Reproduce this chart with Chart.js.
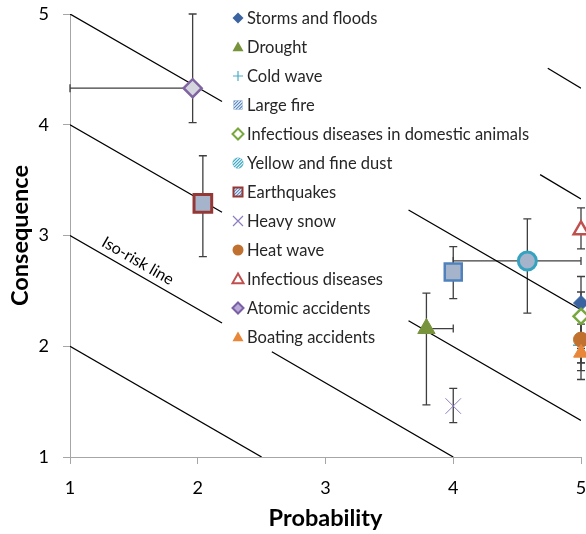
<!DOCTYPE html>
<html>
<head>
<meta charset="utf-8">
<script src="https://cdn.jsdelivr.net/npm/chart.js@4.4.1/dist/chart.umd.min.js"></script>
<style>
html, body { margin: 0; padding: 0; background: #fff; }
#wrap { width: 586px; height: 534px; }
</style>
</head>
<body>
<div id="wrap"><canvas id="riskChart" width="586" height="534"></canvas></div>
<script>
// risk series (one point each)
const riskNames = [
    'Storms and floods', 'Drought', 'Cold wave', 'Large fire',
    'Infectious diseases in domestic animals', 'Yellow and fine dust', 'Earthquakes',
    'Heavy snow', 'Heat wave', 'Infectious diseases', 'Atomic accidents', 'Boating accidents'
];
const probability     = [5, 3.79, 5, 4.0, 5, 4.58, 2.04, 4.0, 5, 5, 1.96, 5];
const consequence     = [2.39, 2.16, 2.01, 2.67, 2.27, 2.77, 3.29, 1.46, 2.06, 3.05, 4.33, 1.94];
const consequenceLow  = [1.85, 1.47, 1.85, 2.43, 1.98, 2.30, 2.81, 1.31, 1.78, 2.88, 4.02, 1.70];
const consequenceHigh = [2.63, 2.48, 2.20, 2.90, 2.49, 3.15, 3.72, 1.62, 2.30, 3.25, 5.00, 2.10];
const probabilityLow  = [null, null, null, null, null, 4.0, null, null, null, null, 1.0, null];
const probabilityHigh = [null, 4.0, null, null, null, 5.0, null, null, null, null, null, null];

// iso-risk lines, null = gap behind the legend
const isoLine1 = [[1, 2], [2.5, 1]];
const isoLine2 = [[1, 3], [2.19, 2.21], null, [2.58, 1.95], [4, 1]];
const isoLine3 = [[1, 4], [2.19, 3.21], null, [3.65, 2.23], [5, 1.33]];
const isoLine4 = [[1, 5], [2.19, 4.21], null, [3.65, 3.23], [5, 2.33]];
const isoLine5 = [[4.68, 3.55], [5, 3.33]];
const isoLine6 = [[4.74, 4.51], [5, 4.33]];

const axisTicks = [1, 2, 3, 4, 5];
const isoLabelText = 'Iso-risk line';
const isoLabelAt = [1.53, 2.77];

const fontFamily = 'Lato, "Open Sans", sans-serif';
const barColor = '#3f3f3f';
const blueGray = '#a5b4cb';

const markerStyles = [
    { pointStyle: 'rectRot', radius: 7.5, bg: '#3a63a0', border: '#3a63a0', bw: 1 },
    { pointStyle: 'triangle', radius: 10, bg: '#77933c', border: '#77933c', bw: 1 },
    { pointStyle: 'cross', radius: 8, bg: '#4bacc6', border: '#4bacc6', bw: 1.5 },
    { pointStyle: 'rect', radius: 12, bg: blueGray, border: '#4f81bd', bw: 2.5 },
    { pointStyle: 'rectRot', radius: 7.5, bg: '#ffffff', border: '#78a83c', bw: 2.5 },
    { pointStyle: 'circle', radius: 9, bg: blueGray, border: '#35a3c0', bw: 3 },
    { pointStyle: 'rect', radius: 12.5, bg: blueGray, border: '#953735', bw: 3 },
    { pointStyle: 'crossRot', radius: 11, bg: '#8e7cc3', border: '#8e7cc3', bw: 1 },
    { pointStyle: 'circle', radius: 7.5, bg: '#c0712f', border: '#c0712f', bw: 1 },
    { pointStyle: 'triangle', radius: 8.5, bg: '#ffffff', border: '#c0504d', bw: 2.5 },
    { pointStyle: 'rectRot', radius: 9, bg: '#d5d5de', border: '#8064a2', bw: 2.5 },
    { pointStyle: 'triangle', radius: 8.5, bg: '#e8863a', border: '#e8863a', bw: 1 }
];

const legendIcons = [
    { shape: 'diamond', fill: '#3a63a0' },
    { shape: 'triangle', fill: '#77933c' },
    { shape: 'plus', stroke: '#4bacc6' },
    { shape: 'square', fill: '#4f81bd', hatch: true },
    { shape: 'diamond', fill: '#ffffff', stroke: '#78a83c' },
    { shape: 'circle', fill: '#35a3c0', hatch: true },
    { shape: 'square', fill: '#4f81bd', stroke: '#953735', hatch: true },
    { shape: 'x', stroke: '#8e7cc3' },
    { shape: 'circle', fill: '#c0712f' },
    { shape: 'triangle', fill: '#ffffff', stroke: '#c0504d' },
    { shape: 'diamond', fill: '#b9a9d6', stroke: '#7a5fa6' },
    { shape: 'triangle', fill: '#e8863a' }
];

function toPoints(line) {
    return line.map(p => p ? { x: p[0], y: p[1] } : { x: null, y: null });
}

const riskDatasets = riskNames.map((name, i) => ({
    label: name,
    data: [{ x: probability[i], y: consequence[i] }],
    pointStyle: markerStyles[i].pointStyle,
    pointRadius: markerStyles[i].radius,
    pointBackgroundColor: markerStyles[i].bg,
    pointBorderColor: markerStyles[i].border,
    pointBorderWidth: markerStyles[i].bw,
    clip: false,
    order: 20 - i
}));

const isoDatasets = [isoLine1, isoLine2, isoLine3, isoLine4, isoLine5, isoLine6].map((line, i) => ({
    label: 'iso' + i,
    data: toPoints(line),
    showLine: true,
    borderColor: '#000000',
    borderWidth: 1.3,
    pointRadius: 0,
    spanGaps: false,
    order: 100
}));

// error bars, drawn under the markers
const errorBars = {
    id: 'errorBars',
    beforeDatasetsDraw(chart) {
        const ctx = chart.ctx;
        const xs = chart.scales.x;
        const ys = chart.scales.y;
        const cap = 4;
        ctx.save();
        ctx.strokeStyle = barColor;
        ctx.lineWidth = 1.3;
        for (let i = 0; i < riskNames.length; i++) {
            const px = xs.getPixelForValue(probability[i]);
            const py = ys.getPixelForValue(consequence[i]);
            const top = ys.getPixelForValue(consequenceHigh[i]);
            const bottom = ys.getPixelForValue(consequenceLow[i]);
            ctx.beginPath();
            ctx.moveTo(px, top); ctx.lineTo(px, bottom);
            ctx.moveTo(px - cap, top); ctx.lineTo(px + cap, top);
            ctx.moveTo(px - cap, bottom); ctx.lineTo(px + cap, bottom);
            if (probabilityLow[i] !== null) {
                const left = xs.getPixelForValue(probabilityLow[i]);
                ctx.moveTo(left, py); ctx.lineTo(px, py);
                ctx.moveTo(left, py - cap); ctx.lineTo(left, py + cap);
            }
            if (probabilityHigh[i] !== null) {
                const right = xs.getPixelForValue(probabilityHigh[i]);
                ctx.moveTo(px, py); ctx.lineTo(right, py);
                ctx.moveTo(right, py - cap); ctx.lineTo(right, py + cap);
            }
            ctx.stroke();
        }
        ctx.restore();
    }
};

function iconPath(ctx, shape, x, y, r) {
    ctx.beginPath();
    if (shape === 'diamond') {
        ctx.moveTo(x, y - r); ctx.lineTo(x + r, y); ctx.lineTo(x, y + r); ctx.lineTo(x - r, y);
        ctx.closePath();
    } else if (shape === 'triangle') {
        ctx.moveTo(x, y - r); ctx.lineTo(x + r, y + r * 0.75); ctx.lineTo(x - r, y + r * 0.75);
        ctx.closePath();
    } else if (shape === 'square') {
        ctx.rect(x - r, y - r, 2 * r, 2 * r);
    } else if (shape === 'circle') {
        ctx.arc(x, y, r, 0, Math.PI * 2);
    }
}

function drawIcon(ctx, icon, x, y) {
    ctx.save();
    if (icon.shape === 'plus' || icon.shape === 'x') {
        const r = 5;
        ctx.strokeStyle = icon.stroke;
        ctx.lineWidth = 1.2;
        ctx.beginPath();
        if (icon.shape === 'plus') {
            ctx.moveTo(x - r, y); ctx.lineTo(x + r, y);
            ctx.moveTo(x, y - r); ctx.lineTo(x, y + r);
        } else {
            ctx.moveTo(x - r, y - r); ctx.lineTo(x + r, y + r);
            ctx.moveTo(x - r, y + r); ctx.lineTo(x + r, y - r);
        }
        ctx.stroke();
        ctx.restore();
        return;
    }
    const r = icon.shape === 'square' ? 4.5 : 5.5;
    iconPath(ctx, icon.shape, x, y, r);
    ctx.fillStyle = icon.fill;
    ctx.fill();
    if (icon.hatch) {
        ctx.save();
        ctx.clip();
        ctx.strokeStyle = 'rgba(255,255,255,0.9)';
        ctx.lineWidth = 1.1;
        for (let k = -2 * r; k <= 2 * r; k += 3.2) {
            ctx.beginPath();
            ctx.moveTo(x + k - r, y + r);
            ctx.lineTo(x + k + r, y - r);
            ctx.stroke();
        }
        ctx.restore();
    }
    if (icon.stroke) {
        iconPath(ctx, icon.shape, x, y, r);
        ctx.strokeStyle = icon.stroke;
        ctx.lineWidth = 2;
        ctx.stroke();
    }
    ctx.restore();
}

// legend inside the plot area, top middle
const riskLegend = {
    id: 'riskLegend',
    afterDatasetsDraw(chart) {
        const ctx = chart.ctx;
        const area = chart.chartArea;
        const iconX = area.left + 168;
        const textX = area.left + 177;
        const y0 = area.top + 4;
        const step = 29;
        ctx.save();
        ctx.font = '16.5px ' + fontFamily;
        ctx.textBaseline = 'middle';
        ctx.textAlign = 'left';
        for (let i = 0; i < riskNames.length; i++) {
            const y = y0 + i * step;
            drawIcon(ctx, legendIcons[i], iconX, y);
            ctx.fillStyle = '#262626';
            ctx.fillText(riskNames[i], textX, y + 1);
        }
        ctx.restore();
    }
};

// rotated label along the second iso-risk line
const isoLabel = {
    id: 'isoLabel',
    afterDatasetsDraw(chart) {
        const ctx = chart.ctx;
        const xs = chart.scales.x;
        const ys = chart.scales.y;
        const a = isoLine2[0];
        const b = isoLine2[isoLine2.length - 1];
        const angle = Math.atan2(ys.getPixelForValue(b[1]) - ys.getPixelForValue(a[1]),
                                 xs.getPixelForValue(b[0]) - xs.getPixelForValue(a[0]));
        ctx.save();
        ctx.translate(xs.getPixelForValue(isoLabelAt[0]), ys.getPixelForValue(isoLabelAt[1]));
        ctx.rotate(angle);
        ctx.font = '16px ' + fontFamily;
        ctx.fillStyle = '#000000';
        ctx.textAlign = 'center';
        ctx.textBaseline = 'middle';
        ctx.fillText(isoLabelText, 0, 0);
        ctx.restore();
    }
};

function axisOptions(title, isX) {
    return {
        type: 'linear',
        min: 1,
        max: 5,
        afterBuildTicks(scale) {
            scale.ticks = axisTicks.map(v => ({ value: v }));
        },
        ticks: {
            padding: isX ? 13 : 14,
            color: '#000000',
            font: { family: fontFamily, size: 18 }
        },
        grid: {
            drawOnChartArea: false,
            drawTicks: true,
            tickLength: 7,
            color: '#a6a6a6'
        },
        border: { display: true, color: '#a6a6a6', width: 1 },
        title: {
            display: true,
            text: title,
            color: '#000000',
            font: { family: fontFamily, size: 23.5, weight: 'bold', lineHeight: 1 },
            padding: isX ? { top: 0, bottom: 4 } : { top: 9, bottom: 0 }
        },
        afterFit(scale) {
            // fixed box sizes so the plot area matches the reference
            if (isX) scale.height = 77;
            else scale.width = 70;
            scale.paddingLeft = 0;
            scale.paddingRight = 0;
            scale.paddingTop = 0;
            scale.paddingBottom = 0;
        }
    };
}

new Chart(document.getElementById('riskChart'), {
    type: 'scatter',
    data: { datasets: [...riskDatasets, ...isoDatasets] },
    options: {
        responsive: false,
        animation: false,
        layout: { autoPadding: false, padding: { top: 14, right: 5, left: 0, bottom: 0 } },
        plugins: {
            legend: { display: false },
            tooltip: { enabled: false }
        },
        scales: {
            x: axisOptions('Probability', true),
            y: axisOptions('Consequence', false)
        }
    },
    plugins: [errorBars, riskLegend, isoLabel]
});
</script>
</body>
</html>
